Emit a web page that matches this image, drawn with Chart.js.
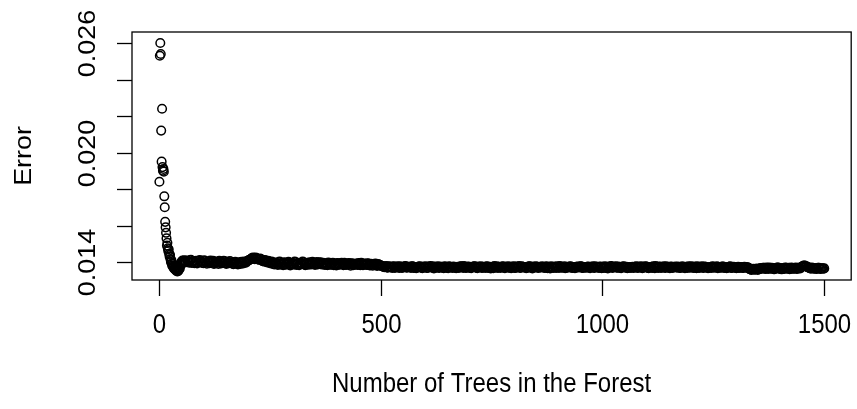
<!DOCTYPE html>
<html>
<head>
<meta charset="utf-8">
<script src="https://cdn.jsdelivr.net/npm/chart.js@4"></script>
<style>
  html, body { margin: 0; padding: 0; background: #fff; }
  canvas { display: block; }
</style>
</head>
<body>
<canvas id="errChart" width="857" height="409"></canvas>
<script>
// --- DADOS ---
// OOB error for the first 60 trees, one value per tree
const errHead = [
  0.01840, 0.02530, 0.02600, 0.02540, 0.02120, 0.01950, 0.02240, 0.01920, 0.01900, 0.01910,
  0.01895, 0.01760, 0.01700, 0.01620, 0.01590, 0.01560, 0.01530, 0.01490, 0.01505, 0.01475,
  0.01460, 0.01470, 0.01445, 0.01430, 0.01440, 0.01415, 0.01400, 0.01410, 0.01390, 0.01380,
  0.01392, 0.01375, 0.01368, 0.01380, 0.01362, 0.01370, 0.01358, 0.01365, 0.01352, 0.01360,
  0.01348, 0.01356, 0.01350, 0.01362, 0.01358, 0.01370, 0.01365, 0.01380, 0.01388, 0.01395,
  0.01402, 0.01396, 0.01408, 0.01400, 0.01404, 0.01397, 0.01410, 0.01403, 0.01398, 0.01406
];

// trees 64, 68, ... 1500
const tailStart = 64;
const tailStep = 4;
const errTail = [
  0.01408, 0.01396, 0.01412, 0.01401, 0.01393, 0.01407, 0.01398, 0.01411, 0.01402, 0.01394,
  0.01405, 0.01391, 0.01400, 0.01408, 0.01396, 0.01389, 0.01403, 0.01397, 0.01406, 0.01392,
  0.01399, 0.01404, 0.01390, 0.01398, 0.01405,
  0.01395, 0.01388, 0.01401, 0.01393, 0.01399, 0.01390, 0.01397, 0.01403, 0.01396, 0.01406,
  0.01412, 0.01418, 0.01425, 0.01416, 0.01422, 0.01414, 0.01419, 0.01408, 0.01403, 0.01410,
  0.01398, 0.01404, 0.01392, 0.01399, 0.01387,
  0.01397, 0.01384, 0.01402, 0.01391, 0.01383, 0.01396, 0.01388, 0.01401, 0.01381, 0.01394,
  0.01386, 0.01399, 0.01390, 0.01382, 0.01395, 0.01403, 0.01387, 0.01393, 0.01385, 0.01398,
  0.01389, 0.01396, 0.01384, 0.01400, 0.01391,
  0.01398, 0.01386, 0.01394, 0.01388, 0.01383, 0.01392, 0.01385, 0.01396, 0.01389, 0.01381,
  0.01393, 0.01387, 0.01395, 0.01382, 0.01390, 0.01386, 0.01394, 0.01380, 0.01391, 0.01385,
  0.01392, 0.01384, 0.01389, 0.01395, 0.01383,
  0.01390, 0.01384, 0.01392, 0.01381, 0.01388, 0.01385, 0.01391, 0.01379, 0.01386, 0.01382,
  0.01376, 0.01372, 0.01378, 0.01369, 0.01375, 0.01371, 0.01377, 0.01368, 0.01374, 0.01370,
  0.01376, 0.01367, 0.01373, 0.01378, 0.01370,
  0.01374, 0.01368, 0.01376, 0.01370, 0.01366, 0.01373, 0.01377, 0.01369, 0.01375, 0.01371,
  0.01367, 0.01374, 0.01378, 0.01370, 0.01365, 0.01372, 0.01376, 0.01368, 0.01373, 0.01369,
  0.01377, 0.01371, 0.01366, 0.01374, 0.01370,
  0.01375, 0.01369, 0.01373, 0.01367, 0.01376, 0.01371, 0.01378, 0.01368, 0.01374, 0.01370,
  0.01366, 0.01373, 0.01377, 0.01369, 0.01375, 0.01372, 0.01367, 0.01374, 0.01368, 0.01376,
  0.01371, 0.01365, 0.01373, 0.01378, 0.01370,
  0.01368, 0.01374, 0.01371, 0.01377, 0.01366, 0.01373, 0.01369, 0.01375, 0.01370, 0.01376,
  0.01367, 0.01372, 0.01378, 0.01369, 0.01374, 0.01371, 0.01366, 0.01373, 0.01377, 0.01368,
  0.01375, 0.01370, 0.01374, 0.01367, 0.01372,
  0.01377, 0.01369, 0.01374, 0.01366, 0.01372, 0.01376, 0.01370, 0.01375, 0.01368, 0.01373,
  0.01378, 0.01369, 0.01371, 0.01366, 0.01374, 0.01370, 0.01376, 0.01367, 0.01373, 0.01369,
  0.01375, 0.01371, 0.01377, 0.01368, 0.01372,
  0.01370, 0.01375, 0.01366, 0.01373, 0.01369, 0.01377, 0.01371, 0.01367, 0.01374, 0.01368,
  0.01376, 0.01372, 0.01365, 0.01373, 0.01378, 0.01370, 0.01374, 0.01369, 0.01375, 0.01367,
  0.01372, 0.01376, 0.01370, 0.01366, 0.01373,
  0.01368, 0.01374, 0.01370, 0.01376, 0.01367, 0.01372, 0.01377, 0.01369, 0.01375, 0.01371,
  0.01366, 0.01373, 0.01368, 0.01374, 0.01378, 0.01370, 0.01375, 0.01367, 0.01372, 0.01369,
  0.01376, 0.01371, 0.01366, 0.01374, 0.01370,
  0.01375, 0.01369, 0.01373, 0.01367, 0.01376, 0.01370, 0.01374, 0.01368, 0.01372, 0.01377,
  0.01369, 0.01375, 0.01366, 0.01373, 0.01370, 0.01376, 0.01368, 0.01374, 0.01371, 0.01367,
  0.01373, 0.01377, 0.01369, 0.01372, 0.01366,
  0.01373, 0.01369, 0.01375, 0.01370, 0.01366, 0.01372, 0.01376, 0.01368, 0.01374, 0.01369,
  0.01371, 0.01367, 0.01373, 0.01368, 0.01374, 0.01370, 0.01366, 0.01361, 0.01357, 0.01363,
  0.01359, 0.01364, 0.01360, 0.01367, 0.01363,
  0.01368, 0.01362, 0.01366, 0.01370, 0.01363, 0.01367, 0.01361, 0.01365, 0.01369, 0.01364,
  0.01360, 0.01366, 0.01370, 0.01363, 0.01368, 0.01362, 0.01367, 0.01364, 0.01369, 0.01363,
  0.01366, 0.01372, 0.01378, 0.01381, 0.01376,
  0.01371, 0.01366, 0.01369, 0.01363, 0.01367, 0.01364, 0.01368, 0.01362, 0.01366, 0.01365
];

// trees 66, 70, ... 1498 (the ones in between)
const midStart = 66;
const errMid = [
  0.01401, 0.01409, 0.01395, 0.01404, 0.01399, 0.01392, 0.01406, 0.01400, 0.01395, 0.01409,
  0.01397, 0.01403, 0.01393, 0.01401, 0.01407, 0.01394, 0.01400, 0.01390, 0.01402, 0.01396,
  0.01407, 0.01394, 0.01401, 0.01393, 0.01399,
  0.01391, 0.01398, 0.01394, 0.01387, 0.01395, 0.01401, 0.01392, 0.01399, 0.01404, 0.01409,
  0.01415, 0.01421, 0.01418, 0.01424, 0.01417, 0.01412, 0.01416, 0.01405, 0.01411, 0.01400,
  0.01407, 0.01395, 0.01402, 0.01389, 0.01396,
  0.01389, 0.01398, 0.01386, 0.01393, 0.01399, 0.01385, 0.01392, 0.01397, 0.01387, 0.01390,
  0.01402, 0.01384, 0.01396, 0.01388, 0.01392, 0.01399, 0.01383, 0.01395, 0.01390, 0.01386,
  0.01401, 0.01388, 0.01394, 0.01387, 0.01397,
  0.01390, 0.01395, 0.01384, 0.01391, 0.01397, 0.01387, 0.01393, 0.01382, 0.01390, 0.01394,
  0.01385, 0.01391, 0.01388, 0.01396, 0.01384, 0.01392, 0.01387, 0.01393, 0.01383, 0.01389,
  0.01386, 0.01394, 0.01382, 0.01388, 0.01391,
  0.01386, 0.01393, 0.01383, 0.01390, 0.01380, 0.01387, 0.01383, 0.01389, 0.01381, 0.01379,
  0.01374, 0.01375, 0.01370, 0.01376, 0.01372, 0.01368, 0.01375, 0.01371, 0.01377, 0.01368,
  0.01373, 0.01370, 0.01376, 0.01369, 0.01374,
  0.01371, 0.01376, 0.01367, 0.01373, 0.01369, 0.01375, 0.01370, 0.01366, 0.01372, 0.01377,
  0.01368, 0.01374, 0.01370, 0.01376, 0.01367, 0.01373, 0.01369, 0.01375, 0.01371, 0.01366,
  0.01374, 0.01368, 0.01376, 0.01372, 0.01367,
  0.01372, 0.01366, 0.01374, 0.01370, 0.01377, 0.01368, 0.01373, 0.01369, 0.01375, 0.01367,
  0.01372, 0.01376, 0.01370, 0.01366, 0.01373, 0.01377, 0.01369, 0.01371, 0.01375, 0.01368,
  0.01374, 0.01370, 0.01366, 0.01373, 0.01376,
  0.01371, 0.01367, 0.01375, 0.01369, 0.01373, 0.01377, 0.01370, 0.01366, 0.01374, 0.01368,
  0.01375, 0.01371, 0.01367, 0.01376, 0.01370, 0.01373, 0.01368, 0.01376, 0.01371, 0.01365,
  0.01372, 0.01377, 0.01369, 0.01374, 0.01370,
  0.01373, 0.01368, 0.01376, 0.01370, 0.01365, 0.01373, 0.01368, 0.01371, 0.01376, 0.01367,
  0.01374, 0.01370, 0.01377, 0.01368, 0.01372, 0.01375, 0.01369, 0.01373, 0.01366, 0.01374,
  0.01370, 0.01376, 0.01368, 0.01373, 0.01369,
  0.01374, 0.01369, 0.01372, 0.01377, 0.01367, 0.01373, 0.01370, 0.01375, 0.01366, 0.01372,
  0.01368, 0.01375, 0.01370, 0.01376, 0.01367, 0.01371, 0.01377, 0.01369, 0.01373, 0.01366,
  0.01375, 0.01370, 0.01374, 0.01368, 0.01372,
  0.01372, 0.01367, 0.01374, 0.01369, 0.01375, 0.01370, 0.01366, 0.01373, 0.01377, 0.01368,
  0.01372, 0.01370, 0.01376, 0.01366, 0.01373, 0.01368, 0.01374, 0.01370, 0.01376, 0.01367,
  0.01372, 0.01369, 0.01375, 0.01368, 0.01373,
  0.01371, 0.01375, 0.01368, 0.01373, 0.01370, 0.01366, 0.01372, 0.01376, 0.01369, 0.01374,
  0.01367, 0.01371, 0.01376, 0.01368, 0.01373, 0.01369, 0.01375, 0.01370, 0.01366, 0.01373,
  0.01368, 0.01374, 0.01371, 0.01376, 0.01369,
  0.01370, 0.01375, 0.01367, 0.01372, 0.01369, 0.01374, 0.01368, 0.01373, 0.01370, 0.01366,
  0.01374, 0.01369, 0.01372, 0.01367, 0.01371, 0.01373, 0.01368, 0.01359, 0.01362, 0.01358,
  0.01361, 0.01357, 0.01362, 0.01365, 0.01368,
  0.01364, 0.01369, 0.01362, 0.01366, 0.01368, 0.01361, 0.01366, 0.01370, 0.01363, 0.01367,
  0.01365, 0.01362, 0.01368, 0.01366, 0.01361, 0.01369, 0.01364, 0.01367, 0.01362, 0.01368,
  0.01365, 0.01375, 0.01380, 0.01377, 0.01372,
  0.01368, 0.01364, 0.01367, 0.01365, 0.01362, 0.01368, 0.01364, 0.01366, 0.01363
];

// eixos
const xTicks = [0, 500, 1000, 1500];
const yTicks = [0.014, 0.016, 0.018, 0.020, 0.022, 0.024, 0.026];
const yTickLabels = ['0.014', '', '', '0.020', '', '', '0.026'];
const xTitle = 'Number of Trees in the Forest';
const yTitle = 'Error';

// monta os pontos (tree number, error)
const points = [];
errHead.forEach(function (v, i) { points.push({ x: i + 1, y: v }); });
errTail.forEach(function (v, i) { points.push({ x: tailStart + i * tailStep, y: v }); });
errMid.forEach(function (v, i) { points.push({ x: midStart + i * tailStep, y: v }); });

const FONT = '24px "Liberation Sans", Arial, sans-serif';
const STRETCH = 1.12; // o PNG original parece esticado na vertical

// texto esticado ao longo de um eixo (simula a imagem original)
function drawText(ctx, txt, x, y, rotated) {
    ctx.save();
    ctx.translate(x, y);
    if (rotated) {
        ctx.rotate(-Math.PI / 2);
        ctx.scale(STRETCH, 1);
    } else {
        ctx.scale(1, STRETCH);
    }
    ctx.fillText(txt, 0, 0);
    ctx.restore();
}

// desenha a caixa e os eixos no estilo do R
const rAxes = {
    id: 'rAxes',
    afterDraw: function (chart) {
        const ctx = chart.ctx;
        const a = chart.chartArea;
        const xs = chart.scales.x;
        const ys = chart.scales.y;
        ctx.save();
        ctx.strokeStyle = '#000';
        ctx.fillStyle = '#000';
        ctx.lineWidth = 1.3;
        ctx.strokeRect(a.left, a.top, a.right - a.left, a.bottom - a.top);

        ctx.font = FONT;
        ctx.textAlign = 'center';
        ctx.textBaseline = 'middle';

        // x ticks
        xTicks.forEach(function (t) {
            const px = Math.round(xs.getPixelForValue(t)) + 0.5;
            ctx.beginPath();
            ctx.moveTo(px, a.bottom);
            ctx.lineTo(px, a.bottom + 16);
            ctx.stroke();
            drawText(ctx, String(t), px, a.bottom + 46, false);
        });

        // y ticks (labels rodados)
        yTicks.forEach(function (t, i) {
            const py = Math.round(ys.getPixelForValue(t)) + 0.5;
            ctx.beginPath();
            ctx.moveTo(a.left, py);
            ctx.lineTo(a.left - 15, py);
            ctx.stroke();
            if (yTickLabels[i]) {
                drawText(ctx, yTickLabels[i], a.left - 44, py, true);
            }
        });

        // titulos
        drawText(ctx, xTitle, (a.left + a.right) / 2, 385, false);
        drawText(ctx, yTitle, 24, (a.top + a.bottom) / 2, true);
        ctx.restore();
    }
};

new Chart(document.getElementById('errChart'), {
    type: 'scatter',
    data: {
        datasets: [{
            label: yTitle,
            data: points,
            pointStyle: 'circle',
            pointRadius: 4.3,
            pointBorderWidth: 1.5,
            borderColor: '#000',
            backgroundColor: 'rgba(0,0,0,0)',
            pointHoverRadius: 4.3
        }]
    },
    options: {
        responsive: false,
        animation: false,
        events: [],
        layout: {
            padding: { left: 132, top: 32, right: 5, bottom: 129 }
        },
        scales: {
            x: { type: 'linear', display: false, min: -60.8, max: 1560.8 },
            y: { type: 'linear', display: false, min: 0.013014, max: 0.026603 }
        },
        plugins: {
            legend: { display: false },
            tooltip: { enabled: false }
        }
    },
    plugins: [rAxes]
});
</script>
</body>
</html>
